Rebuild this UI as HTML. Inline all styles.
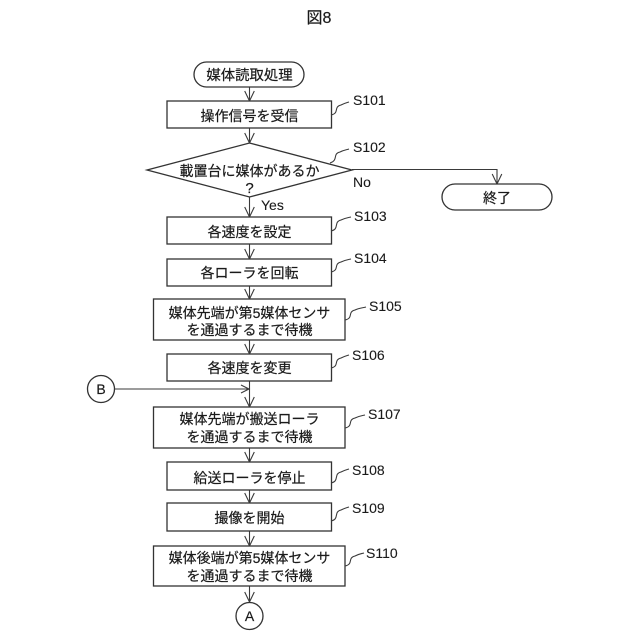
<!DOCTYPE html>
<html lang="ja">
<head>
<meta charset="utf-8">
<style>
html,body{margin:0;padding:0;background:#fff;width:640px;height:640px;overflow:hidden}
svg{display:block}
text{font-family:"Liberation Sans","Noto Sans CJK JP",sans-serif;fill:#1a1a1a;stroke:#1a1a1a;stroke-width:.2}
.t{font-size:14px;text-anchor:middle}
.l{font-size:14px;stroke-width:.1}
.s{fill:#fff;stroke:#333;stroke-width:1.3}
.c{fill:none;stroke:#3a3a3a;stroke-width:1.1}
</style>
</head>
<body>
<svg width="640" height="640" viewBox="0 0 640 640" xmlns="http://www.w3.org/2000/svg">
<defs>
<path id="ah" d="M-4.8,-10 L0,0 L4.8,-10" fill="none" stroke="#3a3a3a" stroke-width="1.1"/>
</defs>

<text class="t" style="font-size:16px" x="319" y="23">図8</text>

<!-- connectors -->
<path class="c" d="M249.5,87V101M249.5,128V143M249.5,197V217M249.5,244V259M249.5,286V299M249.5,340V354M249.5,381V407M249.5,448V462M249.5,490V503M249.5,531V546M249.5,586V602"/>
<path class="c" d="M352,169.5H497V184"/>
<path class="c" d="M115,389H249"/>
<use href="#ah" x="249.5" y="101"/>
<use href="#ah" x="249.5" y="143"/>
<use href="#ah" x="249.5" y="217"/>
<use href="#ah" x="249.5" y="259"/>
<use href="#ah" x="249.5" y="299"/>
<use href="#ah" x="249.5" y="354"/>
<use href="#ah" x="249.5" y="407"/>
<use href="#ah" x="249.5" y="462"/>
<use href="#ah" x="249.5" y="503"/>
<use href="#ah" x="249.5" y="546"/>
<use href="#ah" x="249.5" y="602"/>
<use href="#ah" x="497" y="184"/>
<path class="c" d="M241,385 L249,389 L241,393"/>

<!-- nodes -->
<rect class="s" x="194" y="62" width="110" height="25" rx="12.5"/>
<rect class="s" x="167" y="101" width="164.5" height="27"/>
<polygon class="s" points="147,170 249.5,143 352,170 249.5,197"/>
<rect class="s" x="167" y="217" width="164.5" height="27"/>
<rect class="s" x="167" y="259" width="164.5" height="27"/>
<rect class="s" x="153.5" y="299" width="191.5" height="41"/>
<rect class="s" x="167" y="354" width="164.5" height="27"/>
<rect class="s" x="153.5" y="407" width="191.5" height="41"/>
<rect class="s" x="167" y="462" width="164.5" height="28"/>
<rect class="s" x="167" y="503" width="164.5" height="28"/>
<rect class="s" x="153.5" y="546" width="191.5" height="40"/>
<circle class="s" cx="101" cy="389" r="13.5"/>
<circle class="s" cx="249.5" cy="616" r="13.5"/>
<rect class="s" x="442" y="184" width="110" height="26" rx="13"/>

<!-- node text -->
<text class="t" x="249.5" y="80" style="font-size:14.4px">媒体読取処理</text>
<text class="t" x="249.5" y="121">操作信号を受信</text>
<text class="t" x="249.5" y="176">載置台に媒体があるか</text>
<text class="t" style="font-size:15px" x="249.5" y="193">?</text>
<text class="t" x="249.5" y="237">各速度を設定</text>
<text class="t" x="249.5" y="278">各ローラを回転</text>
<text class="t" x="249.5" y="318">媒体先端が第5媒体センサ</text>
<text class="t" x="249.5" y="335">を通過するまで待機</text>
<text class="t" x="249.5" y="373">各速度を変更</text>
<text class="t" x="249.5" y="424">媒体先端が搬送ローラ</text>
<text class="t" x="249.5" y="442">を通過するまで待機</text>
<text class="t" x="249.5" y="483">給送ローラを停止</text>
<text class="t" x="249.5" y="523">撮像を開始</text>
<text class="t" x="249.5" y="563">媒体後端が第5媒体センサ</text>
<text class="t" x="249.5" y="581">を通過するまで待機</text>
<text class="t" x="101" y="394">B</text>
<text class="t" x="249.5" y="621">A</text>
<text class="t" x="497" y="203">終了</text>
<text class="l" x="353" y="187">No</text>
<text class="l" x="261" y="210">Yes</text>

<!-- step leaders -->
<path class="c" d="M331,115 C340,113 333,107 341,105 C345,103 346,103 349,102"/>
<path class="c" d="M330,163 C339,160 332,154 340,152 C344,150 346,150 349,149"/>
<path class="c" d="M331,231 C340,229 333,222 341,220 C345,218 347,218 351,217"/>
<path class="c" d="M331,272 C340,270 333,264 341,262 C345,260 347,260 351,259"/>
<path class="c" d="M345,320 C354,318 347,312 355,310 C359,308 362,308 366,307"/>
<path class="c" d="M331,368 C340,366 333,360 341,358 C345,356 346,356 349,355"/>
<path class="c" d="M345,428 C354,426 347,420 355,418 C359,416 361,416 365,415"/>
<path class="c" d="M331,483 C340,481 333,474 341,472 C345,470 346,470 349,469"/>
<path class="c" d="M331,521 C340,519 333,512 341,510 C345,508 346,508 349,507"/>
<path class="c" d="M345,566 C354,564 347,558 355,556 C359,554 360,554 364,553"/>

<!-- step labels -->
<text class="l" x="353" y="105">S101</text>
<text class="l" x="353" y="152">S102</text>
<text class="l" x="354" y="221">S103</text>
<text class="l" x="354" y="263">S104</text>
<text class="l" x="369" y="311">S105</text>
<text class="l" x="352" y="360">S106</text>
<text class="l" x="368" y="419">S107</text>
<text class="l" x="352" y="475">S108</text>
<text class="l" x="352" y="513">S109</text>
<text class="l" x="366" y="558">S110</text>
</svg>
</body>
</html>
